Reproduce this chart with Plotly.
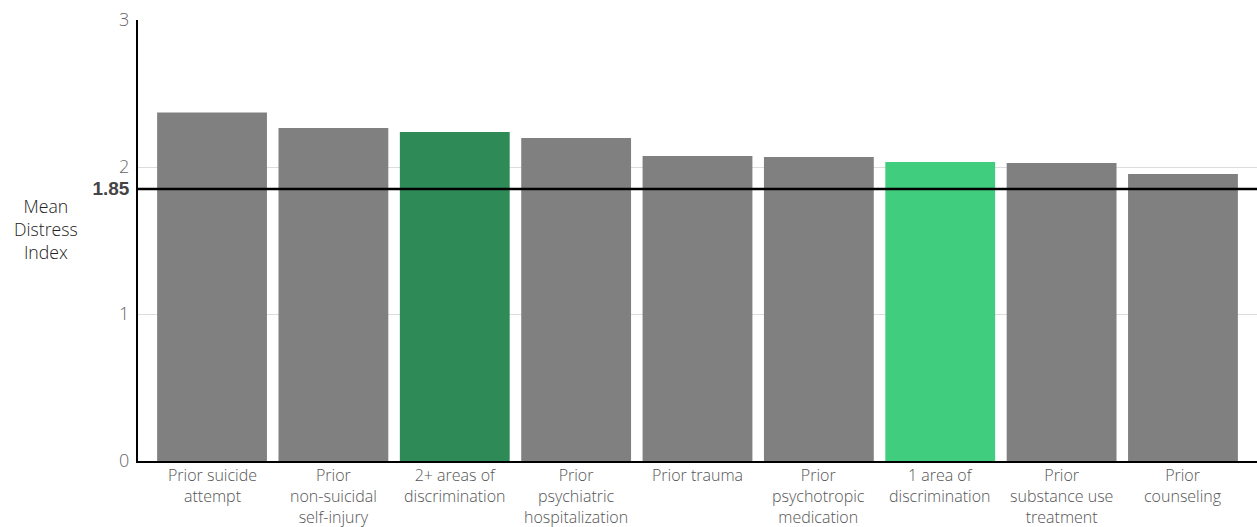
import plotly.graph_objects as go

categories = [
    "Prior suicide<br>attempt",
    "Prior<br>non-suicidal<br>self-injury",
    "2+ areas of<br>discrimination",
    "Prior<br>psychiatric<br>hospitalization",
    "Prior trauma",
    "Prior<br>psychotropic<br>medication",
    "1 area of<br>discrimination",
    "Prior<br>substance use<br>treatment",
    "Prior<br>counseling",
]
mean_distress = [2.37, 2.265, 2.238, 2.197, 2.075, 2.068, 2.034, 2.027, 1.952]
bar_colors = ["#808080", "#808080", "#2E8B57", "#808080", "#808080",
              "#808080", "#40CE7E", "#808080", "#808080"]
overall_mean = 1.85
y_title = "Mean<br>Distress<br>Index"

FONT = "Open Sans"
xpos = list(range(len(categories)))

fig = go.Figure()
fig.add_trace(go.Bar(
    x=xpos,
    y=mean_distress,
    marker=dict(color=bar_colors, line=dict(width=0)),
    hoverinfo="skip",
))

# reference line at the overall mean
fig.add_shape(type="line", xref="paper", x0=0, x1=1, yref="y",
              y0=overall_mean, y1=overall_mean,
              line=dict(color="black", width=2.5))

# category labels under the bars
for i, label in enumerate(categories):
    fig.add_annotation(text=label, x=xpos[i], y=0, xref="x", yref="y",
                       showarrow=False, xanchor="center", yanchor="top",
                       yshift=-1,
                       font=dict(size=16, color="#555", family=FONT, weight=300))

# y-axis title, horizontal to the left of the axis
fig.add_annotation(text=y_title, x=-0.082, y=1.575, xref="paper", yref="y",
                   showarrow=False, xanchor="center", yanchor="middle",
                   font=dict(size=17.7, color="#222", family=FONT, weight=300))

fig.update_layout(
    width=1257, height=527,
    margin=dict(l=138, r=0, t=20, b=66),
    paper_bgcolor="white", plot_bgcolor="white",
    bargap=0.095,
    showlegend=False,
    font=dict(family=FONT, size=16, color="#555", weight=300),
    xaxis=dict(
        range=[-0.61, len(categories) - 0.39],
        showticklabels=False,
        showgrid=False, showline=True, linecolor="black", linewidth=2,
        ticks="", fixedrange=True,
    ),
    yaxis=dict(
        range=[0, 3],
        tickvals=[0, 1, overall_mean, 2, 3],
        ticktext=["0", "1",
                  "<span style='font-family:Liberation Sans;color:#444;font-size:19px'><b>1.85</b></span>",
                  "2", "3"],
        showgrid=True, gridcolor="#dddddd", gridwidth=1,
        showline=True, linecolor="black", linewidth=2,
        zeroline=False, ticks="", ticklabelstandoff=3,
        tickfont=dict(size=18, color="#666", family=FONT, weight=300),
        fixedrange=True,
    ),
)

fig.write_html("out.html")
